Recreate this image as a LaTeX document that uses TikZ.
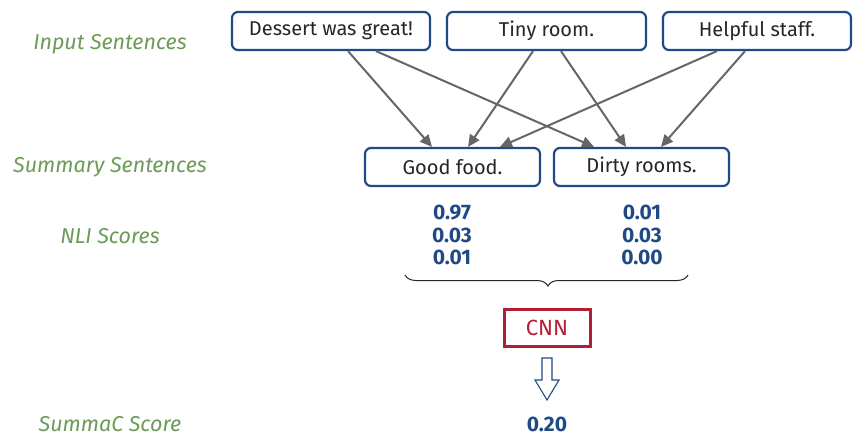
\documentclass[tikz,border=0pt]{standalone}
\usepackage{fontspec}
\setmainfont{Fira Sans}
\usetikzlibrary{arrows.meta,decorations.pathreplacing}
\definecolor{boxblue}{HTML}{1F4A86}
\definecolor{labgreen}{HTML}{6C9B58}
\definecolor{arrgray}{HTML}{666666}
\definecolor{cnnred}{HTML}{B21F35}
\tikzset{
  sentbox/.style={draw=boxblue, line width=2.2pt, rounded corners=6pt, fill=white,
    font=\fontsize{20}{23}\selectfont\color{black!85}, inner sep=0pt},
  rowlabel/.style={font=\fontsize{21.5}{24}\selectfont\itshape\color{labgreen}},
  score/.style={font=\fontsize{21}{22.5}\selectfont\bfseries\color{boxblue}, align=center, inner sep=0pt},
  link/.style={draw=arrgray, line width=2pt, -{Triangle[length=12pt,width=11pt]}},
}
\begin{document}
\begin{tikzpicture}[x=1pt,y=-1pt]
\useasboundingbox (0,0) rectangle (853,436);

% row labels
\node[rowlabel] (l1) at (110,44) {Input Sentences};
\node[rowlabel] (l2) at (110,167) {Summary Sentences};
\node[rowlabel] (l3) at (110,236) {NLI Scores};
\node[rowlabel] (l4) at (110,424) {SummaC Score};

% input sentences
\node[sentbox, minimum width=198pt, minimum height=38pt] (i1) at (331,31) {Dessert was great!};
\node[sentbox, minimum width=199pt, minimum height=38pt] (i2) at (546.5,31) {Tiny room.};
\node[sentbox, minimum width=188pt, minimum height=38pt] (i3) at (757,31) {Helpful staff.};

% summary sentences
\node[sentbox, minimum width=175pt, minimum height=38pt] (s1) at (452.5,167) {Good food.};
\node[sentbox, minimum width=175pt, minimum height=38pt] (s2) at (641.5,167) {Dirty rooms.};

% connections
\draw[link] (i1.south -| 348,0) -- (s1.north -| 432,0);
\draw[link] (i1.south -| 376,0) -- (s2.north -| 594,0);
\draw[link] (i2.south -| 533,0) -- (s1.north -| 468,0);
\draw[link] (i2.south -| 561,0) -- (s2.north -| 626,0);
\draw[link] (i3.south -| 717,0) -- (s1.north -| 500,0);
\draw[link] (i3.south -| 745,0) -- (s2.north -| 661,0);

% NLI scores
\node[score] (n1) at (452,235) {0.97\\0.03\\0.01};
\node[score] (n2) at (642,235) {0.01\\0.03\\0.00};

% brace
\coordinate (bl) at (405,275);
\coordinate (br) at (688,275);
\draw[black!85, line width=1pt, decorate,
      decoration={brace, mirror, amplitude=11pt, aspect=0.505}] (bl) -- (br);

% CNN
\node[draw=cnnred, line width=3pt, minimum width=86pt, minimum height=37pt,
      font=\fontsize{22}{24}\selectfont\color{cnnred}] (cnn) at (547,327.5) {CNN};

% hollow arrow
\draw[boxblue, line width=1.1pt, fill=white]
  (542,358) -- (552,358) -- (552,380) -- (559,380) -- (547,400)
  -- (535,380) -- (542,380) -- cycle;

% final score
\node[score] (out) at (547,424) {0.20};
\end{tikzpicture}
\end{document}
